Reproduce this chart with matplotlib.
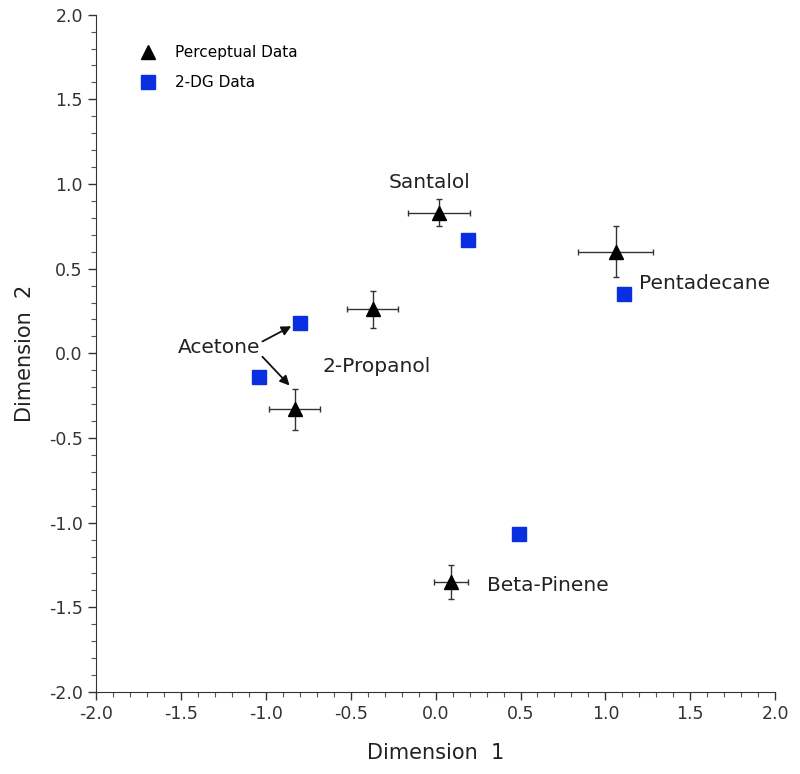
import matplotlib
matplotlib.use("Agg")
import matplotlib.pyplot as plt
from matplotlib.ticker import MultipleLocator
from matplotlib.lines import Line2D

# perceptual data (triangles) with error bars
perc_x = [0.02, 1.06, -0.37, -0.83, 0.09]
perc_y = [0.83, 0.60, 0.26, -0.33, -1.35]
perc_xerr = [0.18, 0.22, 0.15, 0.15, 0.10]
perc_yerr = [0.08, 0.15, 0.11, 0.12, 0.10]

# 2-DG data (squares)
dg_x = [0.19, 1.11, -0.80, -1.04, 0.49]
dg_y = [0.67, 0.35, 0.18, -0.14, -1.07]

etiquetas = ["Santalol", "Pentadecane", "2-Propanol", "Beta-Pinene"]
etiq_x = [-0.035, 1.20, -0.665, 0.30]
etiq_y = [1.01, 0.41, -0.08, -1.37]
etiq_ha = ["center", "left", "left", "left"]

AZUL = '#0a2fe0'

plt.rcParams['font.family'] = ['DejaVu Sans']
fig = plt.figure(figsize=(8, 7.74), dpi=100)
ax = fig.add_axes([0.12, 0.106, 0.849, 0.875])

ax.errorbar(perc_x, perc_y, xerr=perc_xerr, yerr=perc_yerr, fmt='^', color='black',
            ecolor='#333333', elinewidth=1.0, capsize=2.5, capthick=1.0, markersize=10,
            zorder=3)
ax.plot(dg_x, dg_y, 's', color=AZUL, markersize=10, zorder=3, linestyle='none')

for t, x, y, ha in zip(etiquetas, etiq_x, etiq_y, etiq_ha):
    ax.text(x, y, t, ha=ha, va='center', fontsize=14.5, color='#222222')

# Acetone with two arrows
ax.text(-1.03, 0.035, "Acetone", ha='right', va='center', fontsize=14.5, color='#222222')
ax.annotate("", xy=(-0.85, 0.16), xytext=(-1.02, 0.07),
            arrowprops=dict(arrowstyle='-|>', color='#111111', lw=1.3, shrinkA=0, shrinkB=0,
                            mutation_scale=14))
ax.annotate("", xy=(-0.86, -0.19), xytext=(-1.02, -0.02),
            arrowprops=dict(arrowstyle='-|>', color='#111111', lw=1.3, shrinkA=0, shrinkB=0,
                            mutation_scale=14))

ax.set_xlim(-2, 2)
ax.set_ylim(-2, 2)
ax.xaxis.set_major_locator(MultipleLocator(0.5))
ax.yaxis.set_major_locator(MultipleLocator(0.5))
ax.xaxis.set_minor_locator(MultipleLocator(0.1))
ax.yaxis.set_minor_locator(MultipleLocator(0.1))
ax.xaxis.set_major_formatter(matplotlib.ticker.FormatStrFormatter('%.1f'))
ax.yaxis.set_major_formatter(matplotlib.ticker.FormatStrFormatter('%.1f'))
ax.tick_params(which='major', length=6, width=1, labelsize=12.5, colors='#333333')
ax.tick_params(which='minor', length=3.5, width=0.8, colors='#555555')
for s in ['top', 'right']:
    ax.spines[s].set_visible(False)
for s in ['left', 'bottom']:
    ax.spines[s].set_color('#333333')

ax.set_xlabel("Dimension  1", fontsize=15, labelpad=14, color='#222222')
ax.set_ylabel("Dimension  2", fontsize=15, labelpad=10, color='#222222')

manejadores = [Line2D([], [], marker='^', color='black', linestyle='none', markersize=10),
               Line2D([], [], marker='s', color=AZUL, linestyle='none', markersize=10)]
ax.legend(manejadores, ['Perceptual Data', '2-DG Data'], loc='upper left',
          bbox_to_anchor=(0.045, 0.975), frameon=False, fontsize=11,
          handletextpad=1.3, labelspacing=0.95, handlelength=1.0)

fig.savefig("out.png", dpi=100)
